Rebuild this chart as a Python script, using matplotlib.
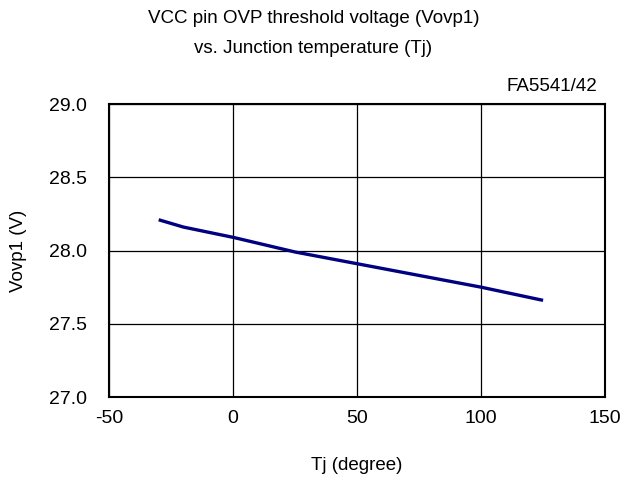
import matplotlib
matplotlib.use('Agg')
import matplotlib.pyplot as plt

# Dados
tj = [-30, -20, 0, 25, 50, 75, 100, 125]
vovp1 = [28.21, 28.16, 28.09, 27.99, 27.91, 27.83, 27.75, 27.66]
x_ticks = [-50, 0, 50, 100, 150]
y_ticks = [27.0, 27.5, 28.0, 28.5, 29.0]

plt.rcParams['font.family'] = ['Liberation Sans', 'DejaVu Sans']

fig = plt.figure(figsize=(6.27, 4.86), dpi=100)
ax = fig.add_axes([0.174, 0.183, 0.791, 0.603])

ax.plot(tj, vovp1, color='#000080', linewidth=2.4, solid_capstyle='butt')

ax.set_xlim(-50, 150)
ax.set_ylim(27.0, 29.0)
ax.set_xticks(x_ticks)
ax.set_yticks(y_ticks)
ax.set_xticklabels([str(v) for v in x_ticks])
ax.set_yticklabels([f'{v:.1f}' for v in y_ticks])
ax.tick_params(axis='x', length=0, labelsize=14, pad=9)
ax.tick_params(axis='y', length=0, labelsize=14, pad=16)
ax.grid(True, color='black', linewidth=0.9)
for s in ax.spines.values():
    s.set_linewidth(1.5)
    s.set_color('black')

ax.set_xlabel('Tj (degree)', fontsize=13.5, labelpad=22)
ax.set_ylabel('Vovp1 (V)', fontsize=13.5, labelpad=16)

fig.text(0.5, 0.961, 'VCC pin OVP threshold voltage (Vovp1)', ha='center', va='center', fontsize=13.5)
fig.text(0.5, 0.901, 'vs. Junction temperature (Tj)', ha='center', va='center', fontsize=13.5)
fig.text(0.953, 0.822, 'FA5541/42', ha='right', va='center', fontsize=13.5)

fig.savefig('out.png', dpi=100)
